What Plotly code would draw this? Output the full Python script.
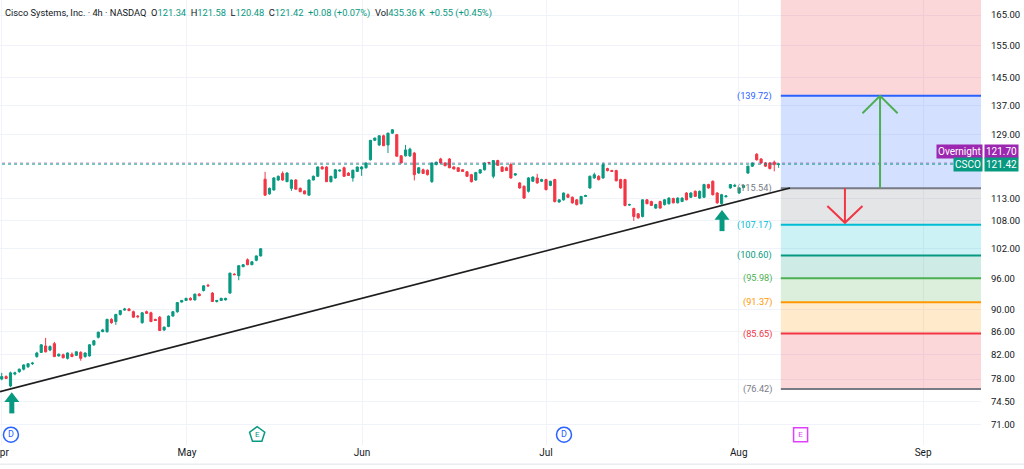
import numpy as np
import plotly.graph_objects as go

# ---- CSCO 4h candles ----
opens = [78.0, 78.4, 76.9, 78.8, 79.2, 79.6, 80.0, 80.5, 81.7, 82.4,
         83.5, 82.8, 83.9, 81.8, 82.0, 81.4, 82.1, 81.9, 82.4, 81.7,
         81.8, 83.7, 85.0, 86.0, 86.0, 88.2, 87.8, 89.1, 89.9, 90.1,
         89.6, 88.8, 87.6, 89.6, 89.4, 88.2, 88.6, 86.3, 86.9, 88.8,
         89.6, 91.4, 91.7, 92.1, 91.8, 92.9, 93.6, 94.6, 93.1, 91.5,
         91.7, 91.8, 93.1, 96.8, 96.5, 98.3, 99.7, 98.7, 99.6, 100.5,
         117.7, 114.2, 115.1, 117.5, 119.1, 117.1, 115.5, 117.5, 115.5, 114.9,
         113.9, 117.5, 118.4, 120.7, 120.7, 117.1, 118.0, 119.7, 120.5, 119.2,
         118.0, 119.6, 120.2, 120.5, 122.5, 127.5, 126.3, 128.7, 126.3, 129.4,
         129.0, 123.5, 123.5, 123.5, 124.2, 119.2, 120.0, 119.9, 117.1, 121.3,
         122.7, 121.7, 122.7, 120.7, 120.5, 120.0, 119.5, 118.8, 117.5, 119.2,
         120.0, 121.8, 118.4, 122.3, 120.7, 120.5, 121.3, 118.7, 116.8, 116.0,
         114.8, 117.2, 118.0, 117.2, 117.6, 116.2, 117.6, 112.3, 112.8, 114.0,
         113.4, 112.8, 111.9, 113.6, 115.6, 118.0, 118.4, 118.0, 120.3, 119.8,
         119.8, 117.6, 117.6, 111.6, 110.8, 109.6, 109.0, 112.8, 112.4, 110.9,
         112.4, 111.7, 111.9, 113.1, 112.1, 112.4, 114.4, 113.4, 114.8, 113.2,
         113.4, 116.4, 117.2, 114.4, 111.9, 113.5, 115.6, 116.0, 114.4, 115.7,
         119.2, 120.9, 123.9, 122.7, 121.7, 121.7, 121.9, 121.34]
highs = [79.0, 78.6, 79.2, 79.2, 79.7, 80.4, 80.6, 80.8, 82.5, 83.8,
         84.9, 83.6, 84.2, 82.2, 82.2, 82.4, 82.4, 82.6, 82.6, 82.4,
         83.8, 84.5, 86.0, 86.5, 88.3, 88.4, 89.2, 89.9, 90.3, 90.3,
         89.8, 89.0, 89.5, 89.8, 89.6, 88.3, 88.8, 86.9, 88.9, 89.7,
         91.4, 91.8, 92.2, 92.3, 93.0, 93.1, 94.6, 94.9, 93.3, 91.8,
         92.2, 92.2, 97.1, 97.0, 98.6, 98.8, 100.0, 99.4, 100.6, 102.1,
         119.5, 115.7, 118.2, 118.6, 119.6, 119.4, 117.6, 117.7, 115.7, 115.0,
         117.6, 118.6, 120.8, 121.0, 120.9, 118.5, 120.2, 120.1, 120.8, 119.4,
         120.0, 120.8, 120.9, 121.8, 127.6, 128.2, 128.8, 129.0, 129.5, 130.5,
         129.2, 123.7, 126.3, 125.6, 124.5, 120.6, 120.3, 120.1, 121.8, 122.0,
         123.0, 121.9, 122.9, 120.9, 120.6, 120.2, 119.7, 119.0, 119.5, 120.1,
         121.8, 122.0, 122.4, 122.5, 120.9, 120.8, 121.8, 119.2, 117.0, 116.2,
         118.2, 118.4, 119.0, 117.8, 117.8, 117.3, 117.8, 112.9, 114.5, 114.3,
         113.6, 113.0, 113.7, 114.0, 118.6, 119.3, 118.7, 121.8, 120.5, 120.0,
         120.0, 117.8, 117.8, 111.9, 111.0, 109.8, 112.9, 113.0, 112.6, 111.9,
         112.6, 113.0, 113.4, 113.3, 113.4, 113.4, 114.6, 114.6, 115.0, 115.0,
         116.6, 116.6, 117.4, 114.6, 114.2, 113.9, 116.5, 116.6, 115.8, 116.4,
         121.0, 121.8, 124.2, 122.9, 121.9, 121.9, 122.3, 121.58]
lows = [77.8, 78.0, 76.7, 78.6, 79.0, 79.4, 79.8, 80.3, 81.5, 82.3,
        82.4, 82.6, 81.6, 81.7, 81.4, 81.2, 81.6, 81.8, 81.0, 81.5,
        81.7, 83.5, 84.8, 85.9, 85.8, 87.4, 87.2, 88.9, 89.8, 89.7,
        88.5, 88.4, 87.4, 89.2, 87.7, 87.9, 86.1, 86.1, 86.8, 88.7,
        89.4, 91.3, 91.6, 91.7, 91.7, 92.5, 93.4, 94.3, 91.4, 91.3,
        91.6, 91.7, 93.0, 96.6, 95.6, 98.2, 98.6, 98.6, 99.4, 100.4,
        113.7, 114.0, 115.0, 117.3, 117.3, 117.0, 114.9, 115.2, 114.6, 114.1,
        113.8, 117.4, 118.3, 120.1, 117.0, 116.9, 117.8, 119.5, 118.3, 118.5,
        117.1, 119.5, 118.5, 120.3, 122.3, 127.3, 126.0, 126.0, 124.2, 129.2,
        123.3, 121.6, 123.3, 123.2, 117.4, 119.0, 119.0, 118.6, 116.8, 121.1,
        121.5, 120.9, 120.4, 120.1, 119.5, 119.5, 118.3, 116.9, 117.3, 119.0,
        119.8, 121.5, 117.9, 121.0, 119.5, 119.7, 117.8, 118.5, 115.4, 113.0,
        114.5, 117.0, 116.6, 117.0, 115.0, 116.0, 112.2, 112.1, 112.6, 113.2,
        111.9, 111.5, 111.7, 113.5, 115.4, 117.8, 117.4, 117.8, 119.6, 119.5,
        117.2, 115.4, 111.3, 111.4, 108.0, 108.5, 108.8, 111.8, 111.4, 110.7,
        110.8, 111.5, 111.7, 112.0, 112.0, 112.3, 112.7, 113.2, 113.5, 113.0,
        113.2, 115.4, 113.8, 111.9, 111.7, 113.4, 115.4, 115.8, 114.2, 115.5,
        119.0, 120.7, 122.3, 121.5, 120.7, 120.1, 119.6, 120.48]
closes = [78.4, 78.1, 79.0, 79.0, 79.6, 80.3, 80.5, 80.6, 82.3, 83.7,
          82.5, 83.4, 81.7, 82.1, 81.5, 82.3, 81.7, 82.5, 81.4, 82.3,
          83.7, 84.4, 85.9, 86.3, 88.2, 87.6, 89.1, 89.8, 90.1, 89.8,
          88.6, 88.7, 89.4, 89.3, 87.8, 88.0, 86.2, 86.8, 88.8, 89.6,
          91.3, 91.7, 92.1, 91.8, 92.9, 92.6, 94.5, 94.5, 91.5, 91.7,
          92.1, 92.1, 97.0, 96.7, 98.5, 98.7, 98.7, 99.3, 100.5, 102.0,
          113.9, 115.5, 118.0, 118.4, 117.5, 119.2, 117.5, 115.3, 114.7, 114.2,
          117.5, 118.4, 120.7, 120.2, 117.1, 118.4, 120.0, 119.9, 118.4, 118.6,
          119.9, 120.7, 120.7, 121.7, 127.5, 128.1, 128.7, 126.1, 129.4, 130.3,
          123.4, 121.7, 125.0, 125.2, 118.8, 120.5, 119.1, 118.8, 121.7, 121.9,
          121.7, 121.0, 120.5, 120.2, 119.6, 119.6, 118.4, 117.1, 119.3, 120.0,
          121.7, 121.7, 122.3, 121.1, 119.6, 119.8, 118.0, 119.0, 115.6, 113.2,
          118.0, 118.2, 116.8, 117.6, 115.2, 117.2, 112.4, 112.8, 114.4, 113.4,
          112.1, 111.7, 113.6, 113.8, 118.4, 118.8, 117.6, 121.3, 119.8, 119.6,
          117.3, 115.6, 111.5, 111.7, 109.0, 108.7, 112.8, 111.9, 111.5, 111.7,
          110.9, 112.8, 113.2, 112.1, 113.2, 113.2, 112.8, 114.4, 113.6, 114.8,
          116.4, 115.6, 114.0, 112.1, 114.0, 113.7, 116.4, 116.2, 115.6, 116.2,
          120.9, 121.7, 122.5, 121.7, 120.9, 120.3, 121.3, 121.42]
bars = list(range(len(opens)))

# time axis: bar index where each month starts
month_labels = ["Apr", "May", "Jun", "Jul", "Aug", "Sep"]
month_bars = [-0.15, 42.2, 82.1, 124.0, 167.9, 209.9]

price_ticks = [71, 74.5, 78, 82, 86, 90, 96, 102, 108, 113, 129, 137, 145, 155, 165]

# ---- fib extension drawn right of the last bar ----
fib_levels = [139.72, 115.54, 107.17, 100.60, 95.98, 91.37, 85.65, 76.42]
fib_colors = ["#2962ff", "#787b86", "#00bcd4", "#089981", "#4caf50", "#ff9800", "#f23645", "#787b86"]
fib_start_bar = 177.5
top_zone_color = "#f23645"

# trend line under the lows
trend_bars = [-0.4, 179.6]
trend_prices = [76.0, 115.6]

last_price = 121.42
overnight_price = 121.70

# dividends / earnings flags on the time axis
div_bars = [2.1, 128.1]
earn_bars = [58.2]
next_earn_bars = [182.0]

# buy signals
signal_bars = [2.3, 164.1]
signal_prices = [74.9, 109.0]

# target arrows: (bar, from, to, colour)
target_arrows = [(200.1, 115.54, 139.72, "#4caf50"), (192.1, 115.54, 107.6, "#f23645")]

UP = "#089981"
DOWN = "#f23645"
GRID = "#f0f3fa"
TXT = "#131722"

x_min, x_max = -0.39, 223.1
y_lo, y_hi = 68.1, 170.2


def rgba(hex_color, a):
    h = hex_color.lstrip("#")
    r, g, b = int(h[0:2], 16), int(h[2:4], 16), int(h[4:6], 16)
    return f"rgba({r},{g},{b},{a})"


fig = go.Figure()

# ---- zones ----
zone_x = [fib_start_bar, x_max + 5, x_max + 5, fib_start_bar]
fig.add_trace(go.Scatter(x=zone_x, y=[fib_levels[0], fib_levels[0], 200, 200], fill="toself",
                         fillcolor=rgba(top_zone_color, 0.2), line=dict(width=0), mode="lines",
                         hoverinfo="skip", showlegend=False))
for i in range(len(fib_levels) - 1):
    hi, lo = fib_levels[i], fib_levels[i + 1]
    fig.add_trace(go.Scatter(x=zone_x, y=[lo, lo, hi, hi], fill="toself",
                             fillcolor=rgba(fib_colors[i], 0.2), line=dict(width=0), mode="lines",
                             hoverinfo="skip", showlegend=False))
for lvl, col in zip(fib_levels, fib_colors):
    fig.add_trace(go.Scatter(x=[fib_start_bar, x_max + 5], y=[lvl, lvl], mode="lines",
                             line=dict(color=col, width=2), hoverinfo="skip", showlegend=False))

# price lines
fig.add_trace(go.Scatter(x=[x_min - 5, x_max + 5], y=[overnight_price] * 2, mode="lines",
                         line=dict(color=rgba("#9c27b0", 0.45), width=1, dash="dot"),
                         hoverinfo="skip", showlegend=False))
fig.add_trace(go.Scatter(x=[x_min - 5, x_max + 5], y=[last_price] * 2, mode="lines",
                         line=dict(color=UP, width=1, dash="dot"), hoverinfo="skip", showlegend=False))

# trend line
fig.add_trace(go.Scatter(x=trend_bars, y=trend_prices, mode="lines",
                         line=dict(color="#1e1e1e", width=1.6), hoverinfo="skip", showlegend=False))

# ---- candles ----
fig.add_trace(go.Candlestick(
    x=bars, open=opens, high=highs, low=lows, close=closes,
    increasing=dict(line=dict(color=UP, width=1), fillcolor=UP),
    decreasing=dict(line=dict(color=DOWN, width=1), fillcolor=DOWN),
    whiskerwidth=0, showlegend=False))

# ---- target arrows ----
for bx, p0, p1, col in target_arrows:
    up = p1 > p0
    back = 0.965 if up else 1.035
    fig.add_trace(go.Scatter(x=[bx, bx], y=[p0, p1], mode="lines",
                             line=dict(color=col, width=2), hoverinfo="skip", showlegend=False))
    fig.add_trace(go.Scatter(x=[bx - 4, bx, bx + 4], y=[p1 * back, p1, p1 * back], mode="lines",
                             line=dict(color=col, width=2), hoverinfo="skip", showlegend=False))

# ---- buy signal arrows ----
fig.add_trace(go.Scatter(x=signal_bars, y=signal_prices, mode="markers",
                         marker=dict(symbol="triangle-up", size=13, color=UP, line=dict(width=0)),
                         hoverinfo="skip", showlegend=False))
fig.add_trace(go.Scatter(x=signal_bars, y=[p * 0.983 for p in signal_prices], mode="markers",
                         marker=dict(symbol="line-ns", size=9, line=dict(color=UP, width=5)),
                         hoverinfo="skip", showlegend=False))

# ---- event flags ----
flag_price = 69.56
fig.add_trace(go.Scatter(x=div_bars, y=[flag_price] * len(div_bars), mode="markers+text", text=["D"] * len(div_bars),
                         textposition="middle center", textfont=dict(color="#2962ff", size=9, family="Roboto"),
                         marker=dict(symbol="circle", size=15, color="white", line=dict(color="#2962ff", width=1.5)),
                         hoverinfo="skip", showlegend=False))
fig.add_trace(go.Scatter(x=earn_bars, y=[flag_price] * len(earn_bars), mode="markers+text", text=["E"],
                         textposition="middle center", textfont=dict(color=UP, size=8, family="Roboto"),
                         marker=dict(symbol="pentagon", size=16, color="white", line=dict(color=UP, width=1.5)),
                         hoverinfo="skip", showlegend=False))
fig.add_trace(go.Scatter(x=next_earn_bars, y=[flag_price] * len(next_earn_bars), mode="markers+text", text=["E"],
                         textposition="middle center", textfont=dict(color="#e040fb", size=8, family="Roboto"),
                         marker=dict(symbol="square", size=14, color="white", line=dict(color="#e040fb", width=1.5)),
                         hoverinfo="skip", showlegend=False))

# ---- annotations ----
ann = []
for lvl, col in zip(fib_levels, fib_colors):
    ann.append(dict(x=fib_start_bar, y=np.log10(lvl), xref="x", yref="y", text=f"({lvl:.2f})",
                    xanchor="right", yanchor="middle", xshift=-7, showarrow=False,
                    font=dict(color=col, size=9.2, family="Roboto")))

# price tags on the scale (overnight pushed up so they don't collide)
for price, name, col, shift in [(overnight_price, "Overnight", "#9c27b0", 11), (last_price, "CSCO", UP, 0)]:
    ann.append(dict(x=1, y=np.log10(price), xref="paper", yref="y", text=f"{price:.2f}",
                    xanchor="left", yanchor="middle", xshift=3, yshift=shift, showarrow=False, bgcolor=col,
                    borderpad=1, font=dict(color="white", size=10, family="Roboto")))
    ann.append(dict(x=1, y=np.log10(price), xref="paper", yref="y", text=name,
                    xanchor="right", yanchor="middle", xshift=2, yshift=shift, showarrow=False, bgcolor=col,
                    borderpad=1, font=dict(color="white", size=10, family="Roboto")))

g = lambda s: f"<span style='color:{UP}'>{s}</span>"
header = ("Cisco Systems, Inc. · 4h · NASDAQ&nbsp;&nbsp;O" + g(f"{opens[-1]:.2f}") +
          "&nbsp;&nbsp;H" + g(f"{highs[-1]:.2f}") + "&nbsp;&nbsp;L" + g(f"{lows[-1]:.2f}") +
          "&nbsp;&nbsp;C" + g(f"{closes[-1]:.2f}") + "&nbsp;&nbsp;" + g("+0.08 (+0.07%)") +
          "&nbsp;&nbsp;Vol" + g("435.36 K") + "&nbsp;&nbsp;" + g("+0.55 (+0.45%)"))
ann.append(dict(x=0, y=1, xref="paper", yref="paper", text=header, xanchor="left", yanchor="top",
                xshift=3, yshift=-5, showarrow=False, align="left",
                font=dict(color=TXT, size=9.3, family="Roboto")))

fig.update_layout(
    width=1024, height=469,
    margin=dict(l=0, r=43, t=0, b=24),
    paper_bgcolor="white", plot_bgcolor="white",
    annotations=ann,
    shapes=[dict(type="line", xref="paper", yref="paper", x0=0, x1=1.05, y0=-0.043, y1=-0.043,
                 line=dict(color="#e0e3eb", width=1))],
    xaxis=dict(range=[x_min, x_max], tickvals=month_bars, ticktext=month_labels,
               showgrid=True, gridcolor=GRID, zeroline=False, showline=False, ticks="",
               ticklabeloverflow="allow", automargin=False,
               rangeslider=dict(visible=False), tickfont=dict(color=TXT, size=10, family="Roboto")),
    yaxis=dict(type="log", side="right", range=[np.log10(y_lo), np.log10(y_hi)],
               tickvals=price_ticks, ticktext=[f"{v:.2f}" for v in price_ticks],
               showgrid=True, gridcolor=GRID, zeroline=False, showline=False, ticks="",
               automargin=False,
               ticklabelstandoff=9, tickfont=dict(color=TXT, size=9.5, family="Roboto")),
    hovermode=False,
)

# page body has a default margin; drop it so the chart sits at the window corner
fig.write_html("out.html", config={"displayModeBar": False},
               post_script="document.body.style.margin='0';")
